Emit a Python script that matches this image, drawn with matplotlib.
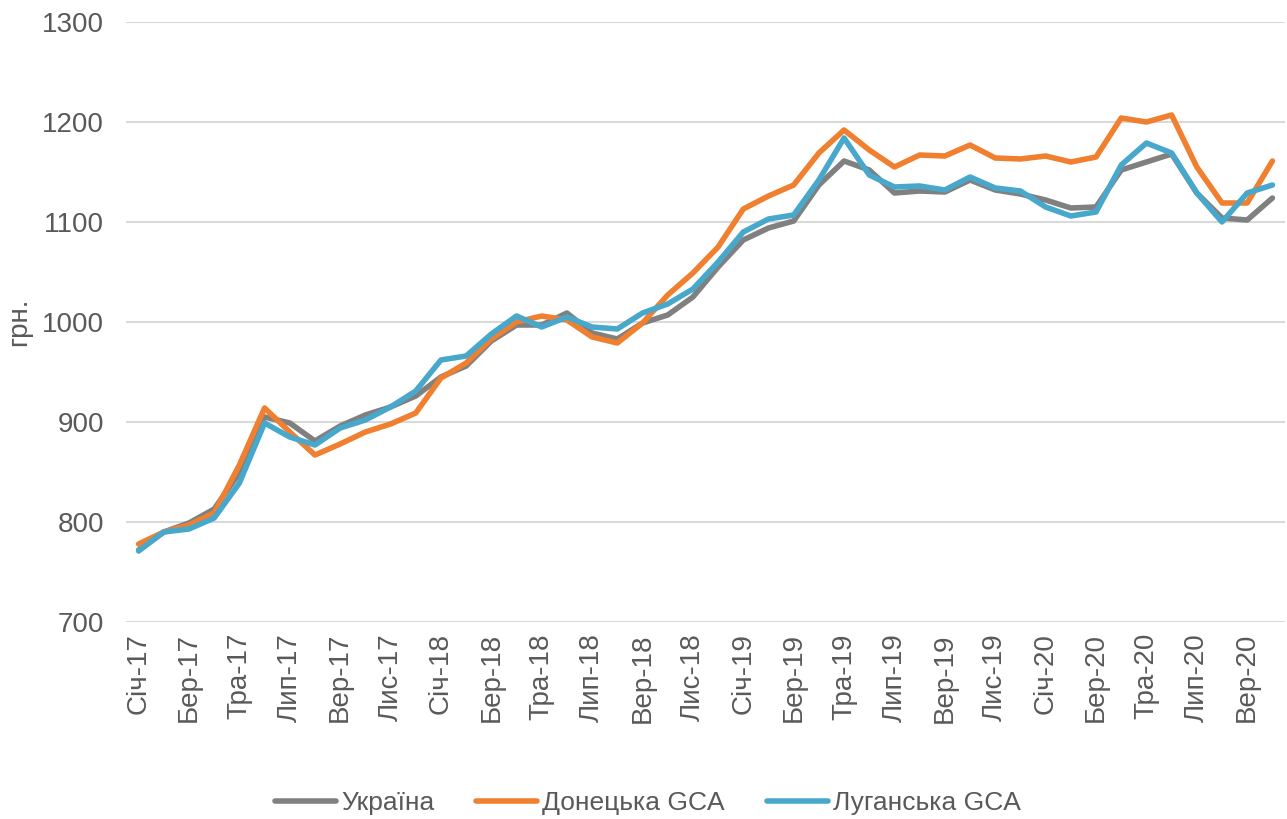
import matplotlib
matplotlib.use("Agg")
import matplotlib.pyplot as plt
import numpy as np

plt.rcParams['font.family'] = ['Liberation Sans', 'DejaVu Sans']

month_names = ["Січ", "Лют", "Бер", "Кві", "Тра", "Чер", "Лип", "Сер", "Вер", "Жов", "Лис", "Гру"]
years = ["17", "18", "19", "20"]
n_points = 46
labels = [f"{month_names[i % 12]}-{years[i // 12]}" for i in range(n_points)]

ukraine = [772, 790, 799, 813, 849, 905, 899, 881, 896, 907, 915, 926, 945, 956, 981,
           997, 997, 1009, 989, 983, 999, 1007, 1025, 1055, 1082, 1094, 1101, 1137, 1161, 1152,
           1129, 1131, 1130, 1142, 1132, 1128, 1122, 1114, 1115, 1152, 1160, 1168, 1129, 1104, 1102, 1124]
donetsk = [778, 790, 797, 809, 857, 914, 890, 867, 878, 890, 898, 909, 944, 959, 983,
           1000, 1006, 1002, 985, 979, 999, 1027, 1049, 1075, 1113, 1126, 1137, 1169, 1192, 1172,
           1155, 1167, 1166, 1177, 1164, 1163, 1166, 1160, 1165, 1204, 1200, 1207, 1155, 1119, 1119, 1161]
luhansk = [771, 790, 793, 804, 839, 899, 885, 877, 894, 902, 915, 931, 962, 966, 988,
           1006, 995, 1005, 995, 993, 1009, 1018, 1033, 1060, 1090, 1103, 1107, 1142, 1184, 1147,
           1135, 1136, 1132, 1145, 1134, 1131, 1115, 1106, 1110, 1157, 1179, 1169, 1129, 1100, 1129, 1137]

series = [("Україна", ukraine, "#808080"),
          ("Донецька GCA", donetsk, "#F08030"),
          ("Луганська GCA", luhansk, "#48A8CC")]

fig = plt.figure(figsize=(12.87, 8.19), dpi=100)
ax = fig.add_axes([126/1287, 1 - 622/819, (1285 - 126)/1287, 600/819])

x = np.arange(n_points)
for name, vals, col in series:
    ax.plot(x, vals, color=col, lw=4.0, label=name, solid_joinstyle='round', solid_capstyle='round')

ax.set_ylim(700, 1300)
ax.set_yticks(np.arange(700, 1301, 100))
ax.set_xlim(-0.5, n_points - 0.5)
ax.set_xticks(x[::2])
ax.set_xticklabels(labels[::2], rotation=90)
ax.grid(axis='y', color='#d9d9d9', lw=1.5)
ax.set_axisbelow(True)
for s in ax.spines.values():
    s.set_visible(False)
ax.tick_params(axis='both', length=0, colors='#595959', labelsize=20)
ax.tick_params(axis='x', pad=8)
ax.tick_params(axis='y', pad=16)
ax.set_ylabel("грн.", color='#595959', fontsize=20)
ax.yaxis.set_label_coords((32 - 126) / 1159, 0.5)

leg = fig.legend(loc='center', bbox_to_anchor=(648/1287, 1 - 803/819), ncol=3, frameon=False,
                 fontsize=19, handlelength=2.3, handletextpad=0.2, columnspacing=1.6)
for t in leg.get_texts():
    t.set_color('#595959')

fig.savefig("out.png", dpi=100)
